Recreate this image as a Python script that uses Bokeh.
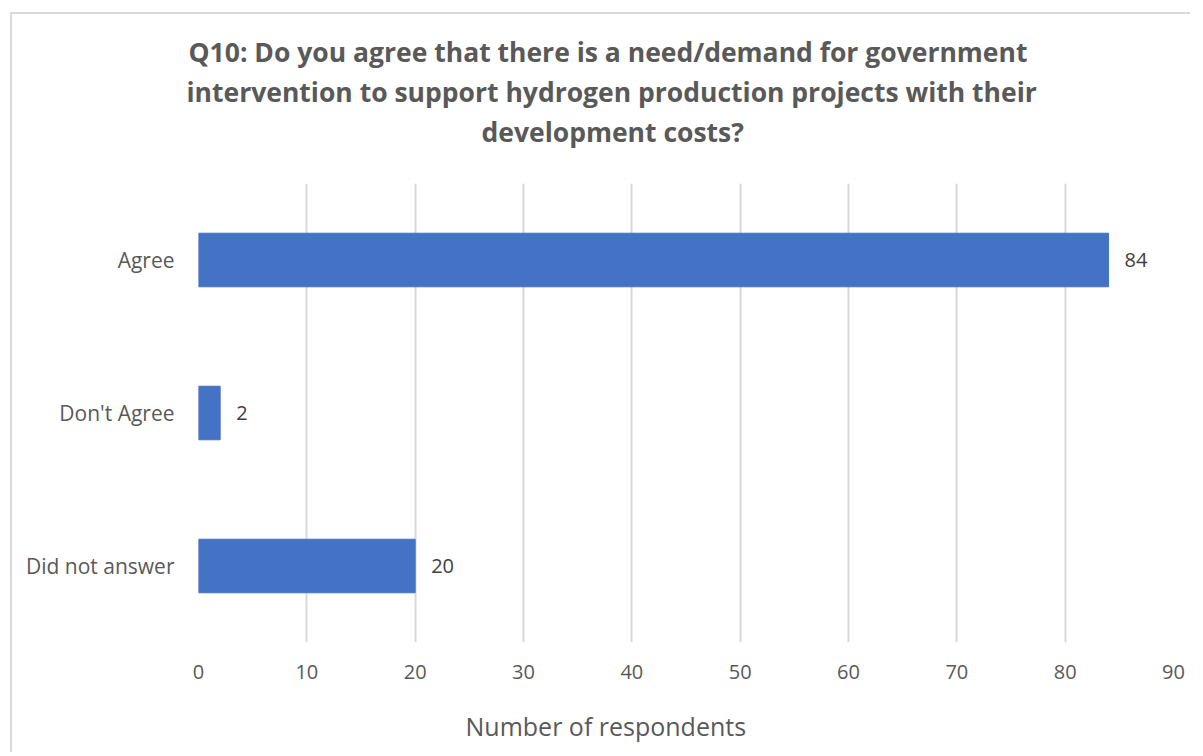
from bokeh.plotting import figure
from bokeh.models import ColumnDataSource, FactorRange, LabelSet, Title, FixedTicker
from bokeh.core.properties import value
from bokeh.embed import file_html
from bokeh.resources import INLINE

categories = ["Agree", "Don't Agree", "Did not answer"]
counts = [84, 2, 20]
x_ticks = [0, 10, 20, 30, 40, 50, 60, 70, 80, 90]

title_lines = ["Q10: Do you agree that there is a need/demand for government",
               "intervention to support hydrogen production projects with their",
               "development costs?"]
x_title = "Number of respondents"

src = ColumnDataSource(dict(cat=categories, val=counts, lab=[str(v) for v in counts]))

p = figure(width=1180, height=740, output_backend="svg", toolbar_location=None,
           y_range=FactorRange(factors=categories[::-1], range_padding=0),
           x_range=(0, 90),
           min_border_left=186, min_border_right=19, min_border_top=169, min_border_bottom=112)
p.title = None

# spacer between plot area and the title block
p.add_layout(Title(text=" ", text_font_size="1px", standoff=30), "above")

# offsets (px from frame left) that centre each title line on the chart area
title_offsets = [-10, -12, 283]
title_standoffs = [2, 2, 2]
for line, off, so in reversed(list(zip(title_lines, title_offsets, title_standoffs))):
    t = Title(text=line, align="left", offset=off, text_font="Open Sans",
              text_font_size="26.5px", text_font_style="bold", text_color="#595959",
              standoff=so)
    p.add_layout(t, "above")

p.margin = (12, 0, 0, 10)
p.styles = {"border-left": "2px solid #d9d9d9", "border-top": "2px solid #d9d9d9"}

p.hbar(y="cat", right="val", left=0, height=0.35, source=src, color="#4472C4")

labels = LabelSet(x="val", y="cat", text="lab", source=src, x_offset=16,
                  text_baseline="middle", text_font=value("Open Sans"),
                  text_font_size=value("20px"), text_color="#404040")
p.add_layout(labels)

p.outline_line_color = None
p.background_fill_color = "white"
p.border_fill_color = "white"

p.xaxis.ticker = FixedTicker(ticks=x_ticks)
p.xaxis.axis_line_color = None
p.xaxis.major_tick_line_color = None
p.xaxis.minor_tick_line_color = None
p.xaxis.major_label_text_font = "Open Sans"
p.xaxis.major_label_text_font_size = "20px"
p.xaxis.major_label_text_color = "#595959"
p.xaxis.major_label_standoff = 16

# spacer below the tick labels, then the axis title
p.add_layout(Title(text=" ", text_font_size="1px", standoff=22), "below")
xt = Title(text=x_title, align="left", offset=267, text_font="Open Sans",
           text_font_size="25px", text_font_style="normal", text_color="#595959",
           standoff=0)
p.add_layout(xt, "below")

p.yaxis.axis_line_color = None
p.yaxis.major_tick_line_color = None
p.yaxis.minor_tick_line_color = None
p.yaxis.major_label_text_font = "Open Sans"
p.yaxis.major_label_text_font_size = "21px"
p.yaxis.major_label_text_color = "#595959"
p.yaxis.major_label_standoff = 18

p.xgrid.grid_line_color = "#d9d9d9"
p.xgrid.grid_line_width = 2
p.ygrid.grid_line_color = None

open("out.html", "w").write(file_html(p, INLINE))
